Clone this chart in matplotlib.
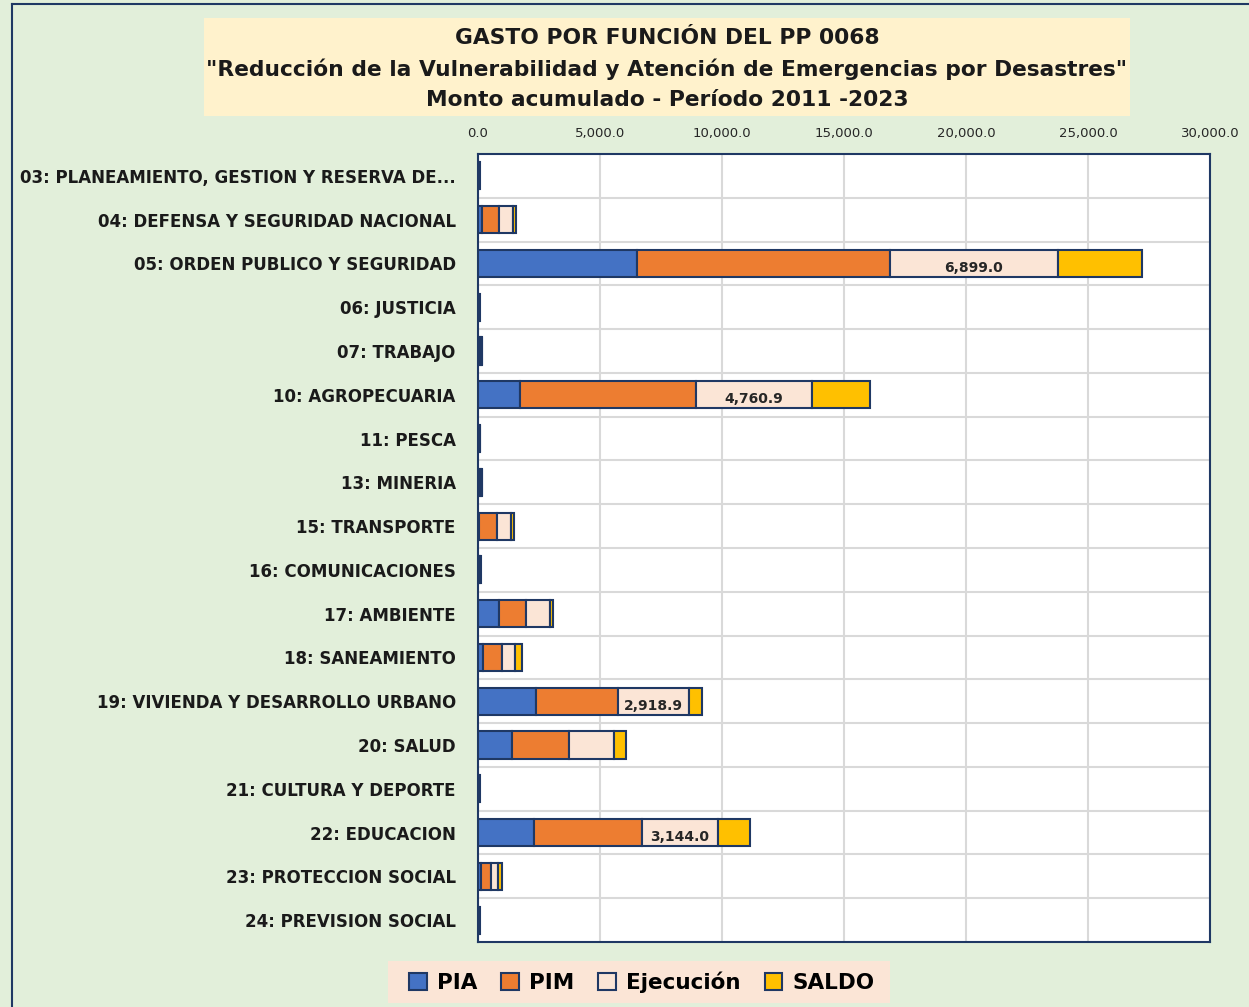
import matplotlib.pyplot as plt
from matplotlib.patches import Rectangle
from matplotlib.ticker import FuncFormatter

# Monto acumulado 2011-2023 (millones de soles)
funciones = ['03: PLANEAMIENTO, GESTION Y RESERVA DE...',
             '04: DEFENSA Y SEGURIDAD NACIONAL',
             '05: ORDEN PUBLICO Y SEGURIDAD',
             '06: JUSTICIA',
             '07: TRABAJO',
             '10: AGROPECUARIA',
             '11: PESCA',
             '13: MINERIA',
             '15: TRANSPORTE',
             '16: COMUNICACIONES',
             '17: AMBIENTE',
             '18: SANEAMIENTO',
             '19: VIVIENDA Y DESARROLLO URBANO',
             '20: SALUD',
             '21: CULTURA Y DEPORTE',
             '22: EDUCACION',
             '23: PROTECCION SOCIAL',
             '24: PREVISION SOCIAL']
pia = [20, 160, 6510, 20, 50, 1720, 30, 50, 30, 30, 860, 220, 2370, 1390, 20, 2290, 110, 20]
pim = [20, 700, 10360, 20, 60, 7200, 30, 60, 740, 40, 1100, 780, 3350, 2330, 20, 4420, 420, 20]
ejecucion = [20, 570, 6899.0, 20, 50, 4760.9, 30, 50, 570, 30, 980, 530, 2918.9, 1840, 20, 3144.0, 270, 20]
saldo = [10, 140, 3440, 10, 20, 2370, 10, 20, 120, 10, 140, 270, 540, 500, 10, 1310, 190, 10]
etiquetados = ['05: ORDEN PUBLICO Y SEGURIDAD', '10: AGROPECUARIA',
               '19: VIVIENDA Y DESARROLLO URBANO', '22: EDUCACION']

series = [('PIA', pia, '#4472C4'), ('PIM', pim, '#ED7D31'),
          ('Ejecución', ejecucion, '#FBE5D6'), ('SALDO', saldo, '#FFC000')]

FONT = 'DejaVu Sans'
NAVY = '#1F3864'
BG = '#E2EFDA'

fig = plt.figure(figsize=(12.49, 10.07), dpi=100, facecolor=BG)
W, H = 1249, 1007

# marco exterior
fig.add_artist(plt.Line2D([12 / W, 12 / W], [0, 1 - 4 / H], color=NAVY, lw=1.5))
fig.add_artist(plt.Line2D([12 / W, 1], [1 - 4 / H, 1 - 4 / H], color=NAVY, lw=1.5))

# titulo
fig.add_artist(Rectangle((204 / W, 1 - 116 / H), 926 / W, 98 / H,
                         transform=fig.transFigure, facecolor='#FFF2CC', edgecolor='none'))
titulos = ['GASTO POR FUNCIÓN DEL PP 0068',
           '"Reducción de la Vulnerabilidad y Atención de Emergencias por Desastres"',
           'Monto acumulado - Período 2011 -2023']
for i, t in enumerate(titulos):
    fig.text(667 / W, 1 - (38 + 31 * i) / H, t, ha='center', va='center',
             fontsize=15.7, fontweight='bold', family=FONT, color='#1a1a1a')

ax = fig.add_axes([478 / W, 65 / H, 732 / W, 788 / H])
ax.set_facecolor('white')

y = list(range(len(funciones)))
left = [0] * len(funciones)
for nombre, vals, color in series:
    ax.barh(y, vals, left=left, height=0.62, color=color, edgecolor=NAVY,
            linewidth=1.5, label=nombre, zorder=3)
    if nombre == 'Ejecución':
        for i, f in enumerate(funciones):
            if f in etiquetados:
                ax.text(left[i] + vals[i] / 2, i + 0.1, f'{vals[i]:,.1f}', ha='center',
                        va='center', fontsize=10, fontweight='bold', family=FONT,
                        color='#262626', zorder=4)
    left = [a + b for a, b in zip(left, vals)]

ax.set_xlim(0, 30000)
ax.set_ylim(len(funciones) - 0.5, -0.5)
ax.xaxis.tick_top()
ax.xaxis.set_major_formatter(FuncFormatter(lambda v, p: f'{v:,.1f}'))
ax.set_xticks(range(0, 30001, 5000))
ax.tick_params(axis='x', length=0, pad=10, labelsize=9.5, labelcolor='#262626')
ax.set_yticks(y)
ax.set_yticklabels(funciones)
ax.tick_params(axis='y', length=0, pad=16)
for lab in ax.get_yticklabels():
    lab.set_fontweight('bold')
    lab.set_fontsize(12)
    lab.set_family(FONT)
    lab.set_color('#1a1a1a')
for lab in ax.get_xticklabels():
    lab.set_family(FONT)

ax.set_yticks([i + 0.5 for i in y[:-1]], minor=True)
ax.tick_params(axis='y', which='minor', length=0)
ax.grid(axis='x', color='#D9D9D9', lw=1.5, zorder=0)
ax.grid(axis='y', which='minor', color='#D9D9D9', lw=1.5, zorder=0)
for s in ax.spines.values():
    s.set_color(NAVY)
    s.set_linewidth(1.5)

# leyenda
fig.add_artist(Rectangle((388 / W, 1 - 1003 / H), 502 / W, 42 / H,
                         transform=fig.transFigure, facecolor='#FBE5D6', edgecolor='none'))
leg = fig.legend(loc='center', bbox_to_anchor=(642 / W, 1 - 982 / H), ncol=4, frameon=False,
                 prop={'family': FONT, 'weight': 'bold', 'size': 15.5}, handlelength=0.8,
                 handleheight=0.8, handletextpad=0.5, columnspacing=1.1)

fig.savefig('out.png', dpi=100, facecolor=BG)
